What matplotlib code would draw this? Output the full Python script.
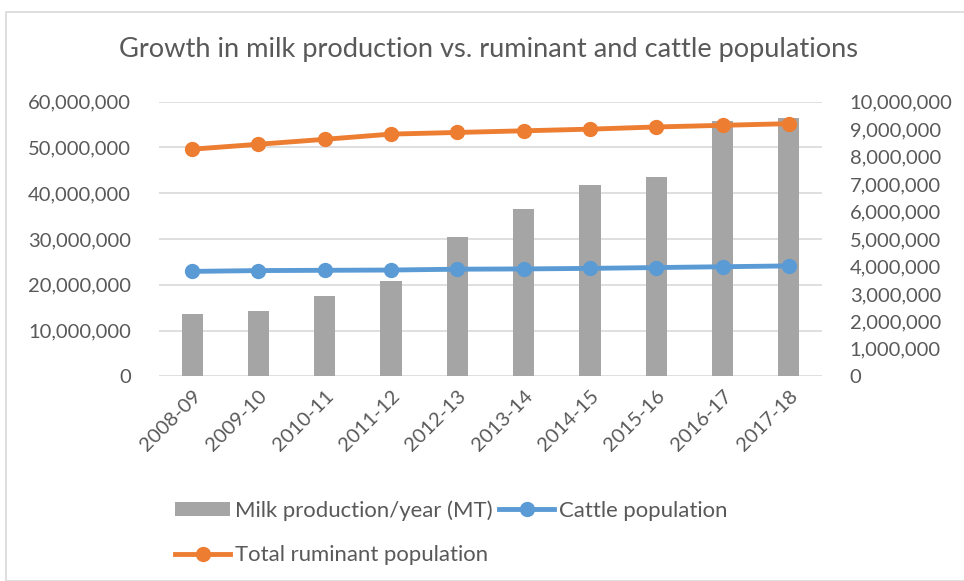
import matplotlib
matplotlib.use("Agg")
import matplotlib.pyplot as plt
from matplotlib.patches import Rectangle
import numpy as np

years = ["2008-09", "2009-10", "2010-11", "2011-12", "2012-13",
         "2013-14", "2014-15", "2015-16", "2016-17", "2017-18"]
milk = [13.6e6, 14.2e6, 17.6e6, 20.75e6, 30.4e6, 36.55e6, 41.8e6, 43.6e6, 55.8e6, 56.4e6]
cattle = [3.82e6, 3.85e6, 3.86e6, 3.87e6, 3.90e6, 3.91e6, 3.93e6, 3.96e6, 3.99e6, 4.02e6]
ruminant = [8.27e6, 8.45e6, 8.63e6, 8.82e6, 8.88e6, 8.94e6, 9.00e6, 9.08e6, 9.14e6, 9.20e6]

TXT = "#595959"
plt.rcParams['font.family'] = ['Lato', 'DejaVu Sans']

fig = plt.figure(figsize=(9.64, 5.81), dpi=100)
fig.patches.append(Rectangle((6/964, 0), 1, 1 - 12/581, transform=fig.transFigure,
                             fill=False, edgecolor="#d9d9d9", linewidth=1.2))
ax = fig.add_axes([159/964, 1 - 376.3/581, (822 - 159)/964, (376.3 - 101.7)/581])
x = np.arange(len(years))
bars = ax.bar(x, milk, width=0.32, color="#a5a5a5", zorder=2, label="Milk production/year (MT)")
ax.set_ylim(0, 60e6)
ax.set_xlim(-0.5, len(years) - 0.5)
ax.set_yticks(np.arange(0, 60e6 + 1, 10e6))
ax.yaxis.set_major_formatter(matplotlib.ticker.FuncFormatter(lambda v, p: f"{int(v):,}"))
ax.grid(axis='y', color="#d9d9d9", linewidth=1.2, zorder=0)
ax.set_axisbelow(True)
for s in ax.spines.values():
    s.set_visible(False)
ax.tick_params(axis='both', length=0, labelsize=14.5, labelcolor=TXT)
ax.tick_params(axis='y', pad=20)
ax.set_xticks(x)
ax.set_xticklabels(years, rotation=45, ha='right', rotation_mode='anchor')
ax.tick_params(axis='x', pad=8)

ax2 = ax.twinx()
ax2.set_ylim(0, 10e6)
ax2.set_yticks(np.arange(0, 10e6 + 1, 1e6))
ax2.yaxis.set_major_formatter(matplotlib.ticker.FuncFormatter(lambda v, p: f"{int(v):,}"))
for s in ax2.spines.values():
    s.set_visible(False)
ax2.tick_params(axis='y', length=0, labelsize=14.5, labelcolor=TXT, pad=20)
l1, = ax2.plot(x, cattle, color="#5b9bd5", linewidth=3.5, marker='o', markersize=10,
               label="Cattle population", zorder=3)
l2, = ax2.plot(x, ruminant, color="#ed7d31", linewidth=3.5, marker='o', markersize=10,
               label="Total ruminant population", zorder=3)

fig.text(489/964, 1 - 50/581, "Growth in milk production vs. ruminant and cattle populations",
         ha='center', va='center', fontsize=19.6, color=TXT)

leg = fig.legend([bars, l2, l1], ["Milk production/year (MT)", "Total ruminant population", "Cattle population"],
                 ncol=2, loc='upper left', bbox_to_anchor=(164/964, 1 - 489/581),
                 frameon=False, fontsize=15.9, labelcolor=TXT, handlelength=2.5,
                 handleheight=0.6, handletextpad=0.2, columnspacing=0.3,
                 labelspacing=1.1, borderpad=0)
fig.savefig("out.png", dpi=100)
